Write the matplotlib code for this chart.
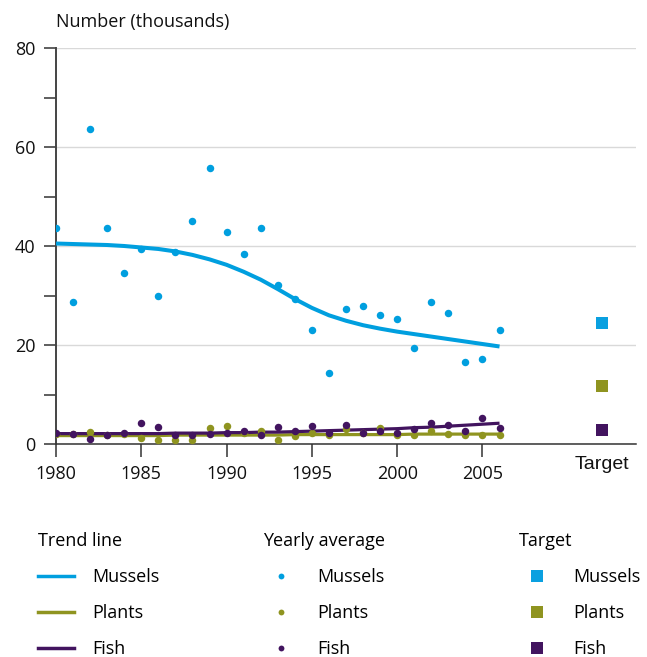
import matplotlib
matplotlib.use("Agg")
import matplotlib.pyplot as plt
from matplotlib.lines import Line2D
import numpy as np

plt.rcParams['font.family'] = ['Open Sans', 'DejaVu Sans']

# yearly averages (thousands)
years = list(range(1980, 2007))
mussels = [43.7, 28.6, 63.6, 43.6, 34.5, 39.3, 30.0, 38.8, 45.1, 55.8,
           42.8, 38.4, 43.6, 32.1, 29.2, 23.0, 14.3, 27.3, 27.9, 26.1,
           25.3, 19.4, 28.6, 26.4, 16.6, 17.2, 23.0]
plants = [2.0, 2.0, 2.4, 1.8, 2.0, 1.2, 0.8, 0.9, 0.9, 3.2,
          3.6, 2.2, 2.7, 0.9, 1.6, 2.3, 1.8, 3.1, 2.3, 3.2,
          1.9, 1.9, 2.6, 2.0, 1.9, 1.9, 1.8]
fish = [2.3, 2.0, 1.1, 1.9, 2.2, 4.3, 3.5, 1.8, 1.8, 2.0,
        2.2, 2.6, 1.9, 3.5, 2.7, 3.6, 2.3, 3.9, 2.3, 2.6,
        2.3, 3.1, 4.3, 3.8, 2.7, 5.3, 3.2]

# trend lines
mussels_trend = [40.5, 40.4, 40.3, 40.2, 40.0, 39.7, 39.4, 38.9, 38.2, 37.3,
                 36.2, 34.8, 33.2, 31.3, 29.3, 27.5, 26.0, 24.9, 24.0, 23.3,
                 22.7, 22.2, 21.7, 21.2, 20.7, 20.2, 19.7]
plants_trend = [1.7, 1.7, 1.7, 1.7, 1.7, 1.7, 1.7, 1.8, 1.8, 1.8,
                1.8, 1.8, 1.8, 1.8, 1.9, 1.9, 1.9, 1.9, 1.9, 1.9,
                1.9, 2.0, 2.0, 2.0, 2.0, 2.0, 2.0]
fish_trend = [2.1, 2.1, 2.1, 2.1, 2.1, 2.1, 2.1, 2.2, 2.2, 2.2,
              2.3, 2.3, 2.4, 2.4, 2.5, 2.6, 2.7, 2.8, 2.9, 3.0,
              3.1, 3.3, 3.4, 3.6, 3.8, 4.0, 4.2]

# targets
target_x = 2012
targets = {'Mussels': 24.5, 'Plants': 11.8, 'Fish': 2.9}

c_mus = '#009fdf'
c_pla = '#8f9420'
c_fis = '#42145f'
c_mus_t = '#0aa0e0'

fig = plt.figure(figsize=(6.47, 6.57), dpi=100)
ax = fig.add_axes([56/647, 1-444/657, (636-56)/647, (444-48)/657])

ax.plot(years, mussels_trend, color=c_mus, lw=2.9, solid_capstyle='butt', zorder=3)
ax.plot(years, plants_trend, color=c_pla, lw=2.3, solid_capstyle='butt', zorder=3)
ax.plot(years, fish_trend, color=c_fis, lw=2.3, solid_capstyle='butt', zorder=4)

ax.scatter(years, mussels, s=29, color=c_mus, lw=0, zorder=5)
ax.scatter(years, plants, s=29, color=c_pla, lw=0, zorder=5)
ax.scatter(years, fish, s=29, color=c_fis, lw=0, zorder=6)

tcols = {'Mussels': c_mus_t, 'Plants': c_pla, 'Fish': c_fis}
for k, v in targets.items():
    ax.scatter([target_x], [v], marker='s', s=78, color=tcols[k], lw=0, zorder=5)

ax.set_xlim(1980, 2014)
ax.set_ylim(0, 80)
ax.set_xticks(range(1980, 2006, 5))
ax.set_yticks(range(0, 81, 20))
ax.set_yticks(range(0, 81, 10), minor=True)
ax.tick_params(axis='y', which='both', length=8.6, width=1.1, color='#333333',
               labelsize=13, pad=6, labelcolor='#111111')
ax.tick_params(axis='x', length=9.4, width=1.1, color='#333333',
               labelsize=13, pad=6, labelcolor='#111111')
for s in ['top', 'right']:
    ax.spines[s].set_visible(False)
ax.spines['left'].set_color('#444444')
ax.spines['left'].set_linewidth(1.4)
ax.spines['bottom'].set_color('#333333')
ax.spines['bottom'].set_linewidth(1.1)
ax.grid(axis='y', which='major', color='#d9d9d9', lw=1.0)
ax.set_axisbelow(True)

ax.text(0, 1.066, 'Number (thousands)', transform=ax.transAxes,
        fontsize=13, va='center', ha='left', color='#111111')
ax.text(target_x, -4.2, 'Target', fontsize=14, ha='center', va='center',
        family='Liberation Sans', color='#111111')

# legends
lkw = dict(frameon=False, loc='upper left', fontsize=13, title_fontsize=13,
           alignment='left', handlelength=2.0, handletextpad=1.0,
           labelspacing=1.0, borderpad=0, borderaxespad=0)
names = ['Mussels', 'Plants', 'Fish']
cols = [c_mus, c_pla, c_fis]
h1 = [Line2D([], [], color=c, lw=2.5) for c in cols]
h2 = [Line2D([], [], color=c, ls='none', marker='o', markersize=4.2, mew=0) for c in cols]
h3 = [Line2D([], [], color=tcols[n], ls='none', marker='s', markersize=8.5, mew=0) for n in names]
ytop = 1 - 532/657
leg1 = fig.legend(h1, names, title='Trend line', bbox_to_anchor=(38/647, ytop), **lkw)
leg2 = fig.legend(h2, names, title='Yearly average', bbox_to_anchor=(263/647, ytop), **lkw)
leg3 = fig.legend(h3, names, title='Target', bbox_to_anchor=(519/647, ytop), **lkw)

fig.savefig('out.png', dpi=100)
